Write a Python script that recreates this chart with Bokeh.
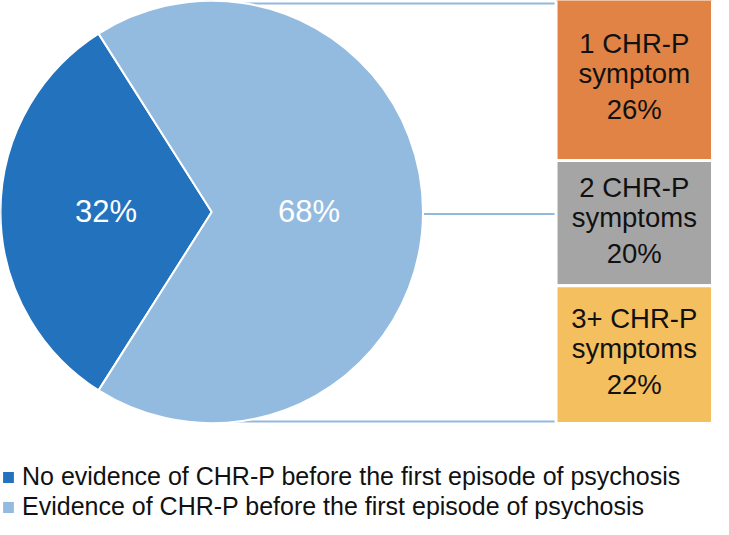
import math
from bokeh.plotting import figure
from bokeh.models import Range1d, Legend, LegendItem, ColumnDataSource
from bokeh.core.properties import value
from bokeh.embed import file_html
from bokeh.resources import INLINE

# ---- data ----
pie_labels = ["No evidence of CHR-P before the first episode of psychosis",
              "Evidence of CHR-P before the first episode of psychosis"]
pie_values = [32, 68]
pie_colors = ["#2272BD", "#93BBE0"]

bar_titles = [["1 CHR-P", "symptom"], ["2 CHR-P", "symptoms"], ["3+ CHR-P", "symptoms"]]
bar_values = [26, 20, 22]
bar_colors = ["#E08344", "#A5A5A5", "#F4BF5F"]

FONT = "Liberation Sans"

# ---- layout (reference pixel space, y measured downward) ----
W, H = 713, 519
REF_W, REF_H = 729, 535

def Y(yr):
    return REF_H - yr

p = figure(width=W, height=H, x_range=Range1d(0, REF_W), y_range=Range1d(0, REF_H),
           output_backend="svg", toolbar_location=None, min_border=0,
           x_axis_type=None, y_axis_type=None)
p.grid.visible = False
p.outline_line_color = None
p.background_fill_color = "white"
p.border_fill_color = "white"

cx, cy, r = 216, 218, 216
bar_left, bar_right = 568, 728
bar_top, bar_bottom = -3, 436

# connector lines
p.segment(x0=[cx, cx + r, cx], y0=[Y(cy - r + 1), Y(cy + 2), Y(cy + r)],
          x1=[bar_left, bar_left, bar_left], y1=[Y(cy - r + 1), Y(cy + 2), Y(cy + r)],
          line_color="#93B8DE", line_width=2)

# bar stack (of-pie)
total = sum(bar_values)
scale = (bar_bottom - bar_top) / total
tops, bottoms = [], []
acc = bar_top
for v in bar_values:
    tops.append(Y(acc))
    acc += v * scale
    bottoms.append(Y(acc))
p.quad(left=[bar_left] * 3, right=[bar_right] * 3, top=tops, bottom=bottoms,
       fill_color=bar_colors, line_color="white", line_width=3)

row_off = [-37, -6, 31]  # downward offsets of the three text rows
tx, ty, tt = [], [], []
for i, v in enumerate(bar_values):
    yc = (tops[i] + bottoms[i]) / 2
    rows = bar_titles[i] + [f"{v}%"]
    for k, t in enumerate(rows):
        tx.append((bar_left + bar_right) / 2)
        ty.append(yc - row_off[k])
        tt.append(t)
p.text(x=tx, y=ty, text=tt, text_font=value(FONT), text_font_size="27.5px",
       text_align="center", text_baseline="middle", text_color="#111111")

# pie
tot = sum(pie_values)
half = math.pi * pie_values[0] / tot
starts = [math.pi - half, math.pi + half]
ends = [math.pi + half, math.pi - half + 2 * math.pi]
src = ColumnDataSource(dict(start=starts, end=ends, color=pie_colors))
wr = p.wedge(x=cx, y=Y(cy), radius=r, start_angle="start", end_angle="end",
             fill_color="color", line_color="white", line_width=2, source=src)

label_r = [0.5, 0.46]
lx, ly, lt = [], [], []
for st, en, v, lr in zip(starts, ends, pie_values, label_r):
    mid = (st + en) / 2
    lx.append(cx + lr * r * math.cos(mid))
    ly.append(Y(cy) + lr * r * math.sin(mid))
    lt.append(f"{v}%")
p.text(x=lx, y=ly, text=lt, text_font=value(FONT), text_font_size="31px",
       text_align="center", text_baseline="middle", text_color="white")

legend = Legend(items=[LegendItem(label=pie_labels[i], renderers=[wr], index=i) for i in range(2)],
                location=(0, -2), glyph_width=16, glyph_height=16,
                label_text_font=FONT, label_text_font_size="25px", label_standoff=6,
                spacing=1, padding=0, margin=0, border_line_color=None,
                background_fill_alpha=0, label_text_color="#111111")
p.add_layout(legend)

open("out.html", "w").write(file_html(p, INLINE))
